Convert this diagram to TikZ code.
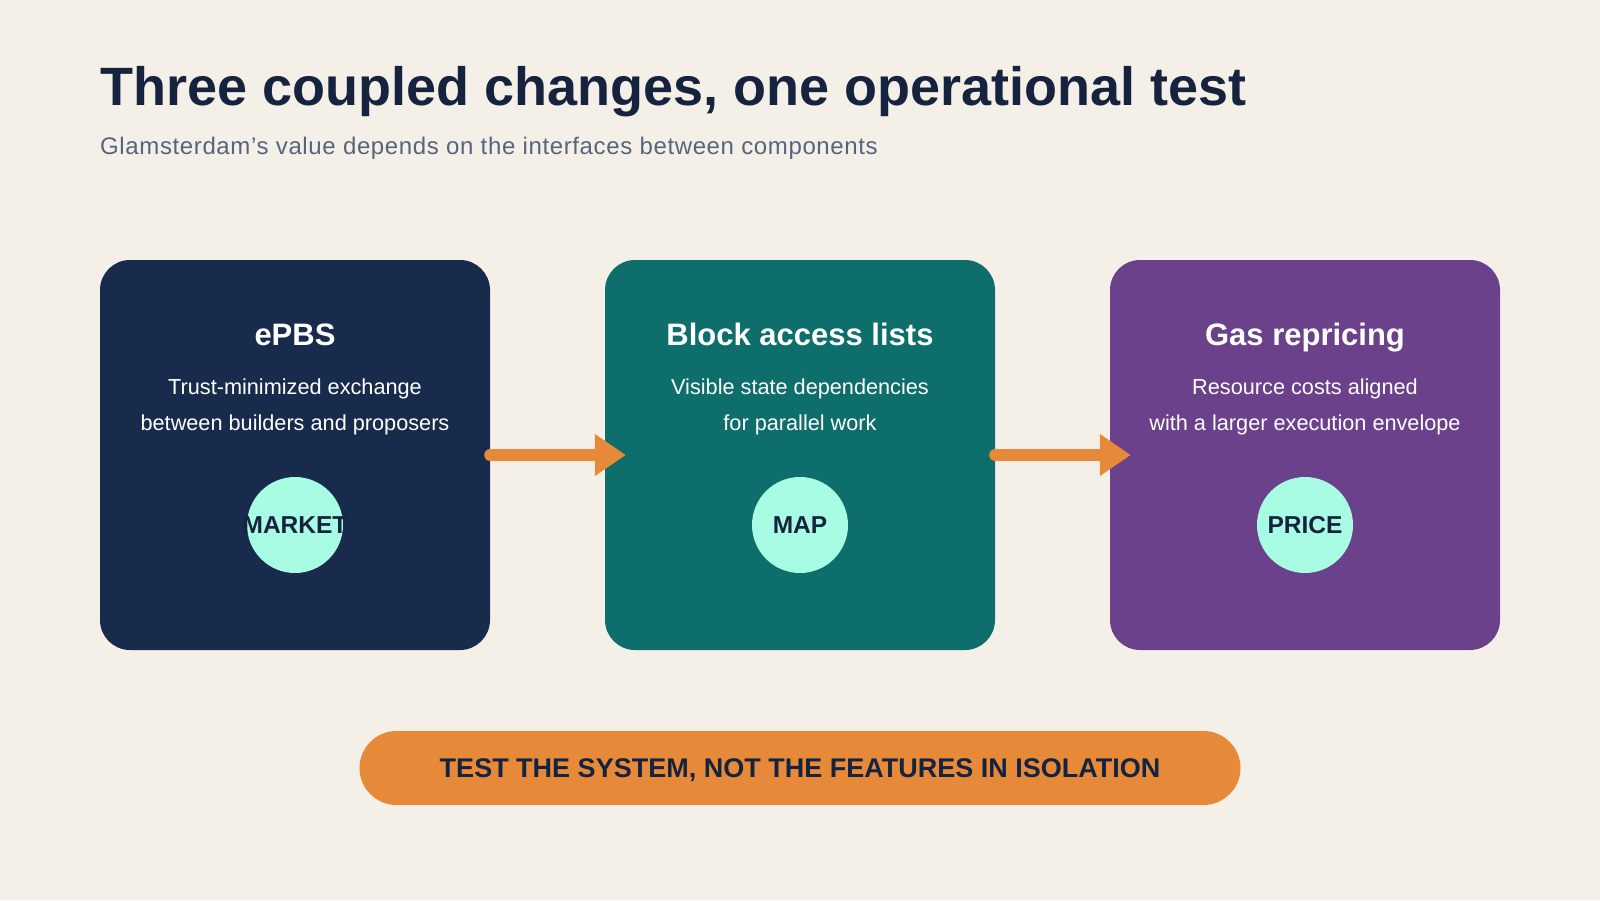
\documentclass[tikz,border=0pt]{standalone}
\usepackage{xcolor}
\usepackage{fontspec}
\setmainfont{Liberation Sans}
\usetikzlibrary{arrows.meta,positioning}

\definecolor{paper}{HTML}{F4F0E8}
\definecolor{ink}{HTML}{16233F}
\definecolor{slate}{HTML}{56657C}
\definecolor{navybox}{HTML}{182B4C}
\definecolor{tealbox}{HTML}{0E6E6B}
\definecolor{plumbox}{HTML}{6A418A}
\definecolor{mint}{HTML}{A8FCE4}
\definecolor{amber}{HTML}{E68A3A}

\tikzset{
  card/.style={rounded corners=30pt,minimum width=390pt,minimum height=390pt,inner sep=0pt},
  cardtitle/.style={anchor=base,text=white,font=\fontsize{31}{36}\selectfont\bfseries},
  carddesc/.style={text=white,align=center,font=\fontsize{21.7}{36}\selectfont},
  badge/.style={circle,fill=mint,minimum size=96pt,inner sep=0pt,
    label={[text=ink,font=\fontsize{24.5}{28}\selectfont\bfseries]center:#1}},
  flow/.style={amber,line width=12pt,line cap=round,-{Triangle[length=31pt,width=40pt]}}
}

\begin{document}
\begin{tikzpicture}[x=1pt,y=-1pt]
			\fill[paper] (0,0) rectangle (1600,900);
			\useasboundingbox (0,0) rectangle (1600,900);
			\node[anchor=base west,inner sep=0pt,text=ink,font=\fontsize{54}{60}\selectfont\bfseries] (title) at (100,105) {Three coupled changes, one operational test};
			\node[anchor=base west,inner sep=0pt,text=slate,font=\fontsize{24}{28}\selectfont\addfontfeatures{LetterSpace=2.6}] (subtitle) at (100,154) {Glamsterdam’s value depends on the interfaces between components};
			% the three components
			\node[card,fill=navybox] (epbs) at (295,455) {};
			\node[card,fill=tealbox] (bal) at (800,455) {};
			\node[card,fill=plumbox] (gas) at (1305,455) {};
			\node[cardtitle] (epbs-t) at ([yshift=110pt]epbs.center) {ePBS};
			\node[cardtitle] (bal-t) at ([yshift=110pt]bal.center) {Block access lists};
			\node[cardtitle] (gas-t) at ([yshift=110pt]gas.center) {Gas repricing};
			\node[carddesc] (epbs-d) at ([yshift=48pt]epbs.center) {Trust-minimized exchange\\between builders and proposers};
			\node[carddesc] (bal-d) at ([yshift=48pt]bal.center) {Visible state dependencies\\for parallel work};
			\node[carddesc] (gas-d) at ([yshift=48pt]gas.center) {Resource costs aligned\\with a larger execution envelope};
			\node[badge=MARKET] (market) at ([yshift=-70pt]epbs.center) {};
			\node[badge=MAP] (map) at ([yshift=-70pt]bal.center) {};
			\node[badge=PRICE] (price) at ([yshift=-70pt]gas.center) {};
			% couplings
			\draw[flow] (epbs.east) -- ([xshift=21pt]bal.west);
			\draw[flow] (bal.east) -- ([xshift=21pt]gas.west);
			\node[fill=amber,rounded corners=37pt,minimum width=881pt,minimum height=74pt,text depth=0pt,text=ink,font=\fontsize{27}{30}\selectfont\bfseries] (banner) at (800,768) {TEST THE SYSTEM, NOT THE FEATURES IN ISOLATION};
		\end{tikzpicture}
\end{document}
